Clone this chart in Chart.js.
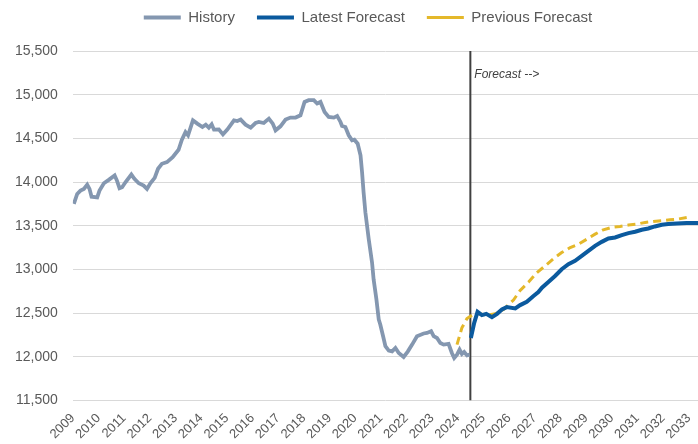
<!DOCTYPE html>
<html lang="en">
<head>
    <meta charset="UTF-8">
    <title>History and Forecast</title>
    <style>
        body {
            margin: 0;
            background-color: #fff;
        }
        #chartContainer {
            width: 698px;
            height: 444px;
        }
    </style>
</head>
<body>

<div id="chartContainer">
    <canvas id="chart"></canvas>
</div>

<script src="https://cdn.jsdelivr.net/npm/chart.js"></script>
<script>
    // History (decimal years)
    const historyYears = [
        2009.04, 2009.17, 2009.30, 2009.43, 2009.56, 2009.65, 2009.73, 2009.95, 2010.04, 2010.21,
        2010.40, 2010.63, 2010.72, 2010.82, 2010.92, 2011.05, 2011.28, 2011.40, 2011.57, 2011.76,
        2011.89, 2012.02, 2012.19, 2012.32, 2012.47, 2012.67, 2012.89, 2013.12, 2013.25, 2013.39,
        2013.49, 2013.68, 2013.85, 2014.05, 2014.18, 2014.30, 2014.41, 2014.50, 2014.69, 2014.85,
        2015.02, 2015.28, 2015.41, 2015.54, 2015.73, 2015.93, 2016.12, 2016.25, 2016.44, 2016.64,
        2016.79, 2016.90, 2017.09, 2017.29, 2017.48, 2017.68, 2017.87, 2018.03, 2018.19, 2018.39,
        2018.52, 2018.65, 2018.81, 2018.97, 2019.17, 2019.30, 2019.43, 2019.49, 2019.62, 2019.75,
        2019.88, 2019.97, 2020.10, 2020.21, 2020.27, 2020.33, 2020.40, 2020.53, 2020.66, 2020.72,
        2020.83, 2020.92, 2020.98, 2021.09, 2021.18, 2021.31, 2021.44, 2021.57, 2021.70, 2021.89,
        2022.05, 2022.22, 2022.41, 2022.67, 2022.80, 2022.96, 2023.06, 2023.19, 2023.32, 2023.45,
        2023.64, 2023.77, 2023.86, 2023.97, 2024.07, 2024.16, 2024.25, 2024.36, 2024.46
    ];
    const historyValues = [
        13750, 13864, 13902, 13922, 13971, 13922, 13833, 13825, 13902, 13986,
        14025, 14075, 14017, 13929, 13940, 13998, 14086, 14037, 13986, 13960,
        13922, 13986, 14048, 14152, 14209, 14228, 14285, 14370, 14485, 14572,
        14535, 14707, 14669, 14630, 14657, 14623, 14661, 14600, 14603, 14546,
        14600, 14707, 14699, 14715, 14657, 14623, 14676, 14688, 14676, 14726,
        14669, 14592, 14638, 14715, 14738, 14738, 14764, 14917, 14937, 14937,
        14899, 14917, 14802, 14745, 14738, 14757, 14688, 14642, 14630, 14535,
        14477, 14485, 14439, 14305, 14113, 13883, 13653, 13347, 13078, 12887,
        12657, 12428, 12370, 12236, 12121, 12071, 12063, 12101, 12044, 11998,
        12060, 12140, 12236, 12267, 12274, 12293, 12236, 12216, 12159, 12140,
        12148, 12044, 11987, 12025, 12083, 12033, 12056, 12017, 12025
    ];

    const latestYears = [
        2024.51, 2024.64, 2024.77, 2024.94, 2025.11, 2025.33, 2025.53, 2025.72, 2025.91, 2026.24,
        2026.43, 2026.69, 2026.95, 2027.14, 2027.28, 2027.53, 2027.79, 2028.05, 2028.31, 2028.57,
        2028.83, 2029.09, 2029.35, 2029.61, 2029.87, 2030.13, 2030.39, 2030.65, 2030.91, 2031.17,
        2031.42, 2031.68, 2031.95, 2032.20, 2032.53, 2032.92, 2033.36
    ];
    const latestValues = [
        12216, 12389, 12515, 12477, 12492, 12454, 12492, 12542, 12569, 12554,
        12592, 12630, 12696, 12741, 12791, 12856, 12925, 13002, 13060, 13098,
        13155, 13213, 13270, 13316, 13354, 13366, 13393, 13416, 13431, 13454,
        13469, 13492, 13511, 13519, 13527, 13531, 13531
    ];

    const previousYears = [
        2023.97, 2024.16, 2024.36, 2024.55, 2024.81, 2025.14, 2025.46, 2025.78, 2026.17, 2026.43,
        2026.76, 2027.08, 2027.40, 2027.73, 2028.05, 2028.38, 2028.70, 2029.03, 2029.35, 2029.67,
        2030.00, 2030.32, 2030.65, 2030.97, 2031.30, 2031.62, 2031.95, 2032.27, 2032.59, 2032.92
    ];
    const previousValues = [
        12140, 12331, 12439, 12477, 12492, 12477, 12492, 12542, 12650, 12760,
        12856, 12963, 13040, 13124, 13193, 13251, 13289, 13347, 13404, 13454,
        13481, 13492, 13508, 13519, 13538, 13550, 13557, 13569, 13577, 13594
    ];

    const forecastStart = 2024.49;
    const yMin = 11500;
    const yMax = 15500;

    const toPoints = (xs, ys) => xs.map((x, i) => ({ x: x, y: ys[i] }));

    // text label next to the forecast divider
    const forecastLabel = {
        id: 'forecastLabel',
        afterDatasetsDraw(chart) {
            const ctx = chart.ctx;
            const x = chart.scales.x.getPixelForValue(forecastStart) + 4;
            const y = chart.scales.y.getPixelForValue(15230);
            ctx.save();
            ctx.font = 'italic 12px "Liberation Sans"';
            ctx.fillStyle = '#404040';
            ctx.textBaseline = 'middle';
            ctx.fillText('Forecast -->', x, y);
            ctx.restore();
        }
    };

    // push the plot down below the legend, and nudge the legend right
    const legendSpacer = {
        id: 'legendSpacer',
        beforeInit(chart) {
            const fit = chart.legend.fit;
            chart.legend.fit = function() {
                fit.bind(chart.legend)();
                this.height += 16;
            };
        },
        afterLayout(chart) {
            chart.legend.left += 19;
            chart.legend.right += 19;
        }
    };

    const ctx = document.getElementById('chart').getContext('2d');
    new Chart(ctx, {
        type: 'line',
        data: {
            datasets: [
                {
                    label: 'History',
                    data: toPoints(historyYears, historyValues),
                    borderColor: '#8497B0',
                    backgroundColor: '#8497B0',
                    borderWidth: 3.8,
                    pointRadius: 0,
                    tension: 0
                },
                {
                    label: 'Latest Forecast',
                    data: toPoints(latestYears, latestValues),
                    borderColor: '#0B5A9E',
                    backgroundColor: '#0B5A9E',
                    borderWidth: 4,
                    pointRadius: 0,
                    tension: 0
                },
                {
                    label: 'Previous Forecast',
                    data: toPoints(previousYears, previousValues),
                    borderColor: '#E4B82A',
                    backgroundColor: '#E4B82A',
                    borderWidth: 3,
                    borderDash: [8, 5],
                    pointRadius: 0,
                    tension: 0
                },
                {
                    label: 'divider',
                    data: [{ x: forecastStart, y: yMin }, { x: forecastStart, y: yMax }],
                    borderColor: '#404040',
                    borderWidth: 2,
                    pointRadius: 0
                }
            ]
        },
        options: {
            responsive: true,
            maintainAspectRatio: false,
            animation: false,
            layout: {
                padding: { left: 0, right: 0, top: -12, bottom: 0 }
            },
            plugins: {
                tooltip: { enabled: false },
                legend: {
                    position: 'top',
                    labels: {
                        usePointStyle: true,
                        pointStyle: 'line',
                        pointStyleWidth: 37,
                        boxHeight: 4,
                        padding: 22,
                        color: '#595959',
                        font: { family: '"Liberation Sans"', size: 15 },
                        filter: item => item.text !== 'divider'
                    }
                }
            },
            scales: {
                x: {
                    type: 'linear',
                    min: 2009,
                    max: 2033.36,
                    grid: { display: false },
                    border: { display: false },
                    afterFit(scale) {
                        scale.paddingLeft = 0;
                        scale.paddingRight = 0;
                    },
                    ticks: {
                        stepSize: 1,
                        includeBounds: false,
                        autoSkip: false,
                        minRotation: 45,
                        maxRotation: 45,
                        padding: 2,
                        color: '#595959',
                        font: { family: '"Liberation Sans"', size: 13 },
                        callback: v => String(v)
                    }
                },
                y: {
                    min: yMin,
                    max: yMax,
                    grid: { color: '#D9D9D9', lineWidth: 1, drawTicks: false },
                    border: { display: false },
                    ticks: {
                        stepSize: 500,
                        padding: 15,
                        color: '#595959',
                        font: { family: '"Liberation Sans"', size: 14 },
                        callback: v => v.toLocaleString('en-US')
                    }
                }
            }
        },
        plugins: [forecastLabel, legendSpacer]
    });
</script>
</body>
</html>
